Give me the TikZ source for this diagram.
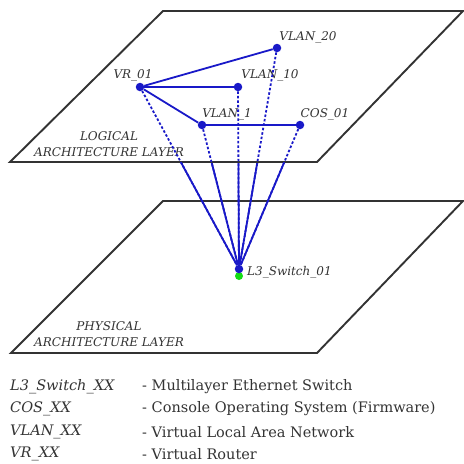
\documentclass[tikz,border=0pt]{standalone}
\usepackage{fontspec}
\setmainfont{DejaVu Serif}
\pgfdeclarelayer{back}
\pgfdeclarelayer{plane}
\pgfsetlayers{back,plane,main}
\definecolor{lnblue}{RGB}{25,25,200}
\definecolor{swgreen}{RGB}{20,220,20}
\tikzset{
  x=1pt, y=-1pt,
  planebox/.style={draw=black!80, line width=1.9pt, line join=miter},
  dot/.style={circle, fill=lnblue, inner sep=0pt, minimum size=8.5pt},
  gdot/.style={circle, fill=swgreen, inner sep=0pt, minimum size=8pt},
  link/.style={draw=lnblue, line width=1.8pt},
  hidden/.style={draw=lnblue, line width=1.8pt, dash pattern=on 2.5pt off 2pt},
  lbl/.style={font=\fontsize{12}{13}\selectfont\itshape, text=black!80, inner sep=0pt},
  layer/.style={font=\fontsize{12}{16}\selectfont\itshape, text=black!80, align=center, inner sep=0pt},
  leg/.style={font=\fontsize{14.5}{16}\selectfont, text=black!80, anchor=west, inner sep=0pt},
  legi/.style={font=\fontsize{14.5}{16}\selectfont\itshape, text=black!80, anchor=west, inner sep=0pt}
}
\begin{document}
\begin{tikzpicture}
\useasboundingbox (0,0) rectangle (464,464);
% nodes
\node[gdot] (swg) at (239,276) {};
\node[dot] (sw) at (239,269) {};
\node[dot] (vr) at (140,87) {};
\node[dot] (v10) at (238,87) {};
\node[dot] (v20) at (277,48) {};
\node[dot] (v1) at (202,125) {};
\node[dot] (cos) at (300,125) {};
% labels
\node[lbl] (lvr) at (133,75) {VR\_01};
\node[lbl] (lv20) at (308,37) {VLAN\_20};
\node[lbl] (lv10) at (270,75) {VLAN\_10};
\node[lbl] (lv1) at (227,114) {VLAN\_1};
\node[lbl] (lcos) at (325,114) {COS\_01};
\node[lbl, anchor=west] (lsw) at (247,272) {L3\_Switch\_01};
% planes
\begin{pgfonlayer}{back}
  \draw[planebox, fill=white] (163,201) -- (463,201) -- (317,353) -- (11,353) -- cycle;
  \foreach \n in {vr,v1,v10,v20,cos}{\draw[link] (\n) -- (sw);}
\end{pgfonlayer}
\begin{pgfonlayer}{plane}
  \draw[planebox, fill=white] (163,11) -- (463,11) -- (317,162) -- (10,162) -- cycle;
\end{pgfonlayer}
\node[layer] (logical) at (109,144) {LOGICAL\\ARCHITECTURE LAYER};
\node[layer] (physical) at (109,334) {PHYSICAL\\ARCHITECTURE LAYER};
% hidden lines
\foreach \n in {vr,v1,v10,v20,cos}{\draw[hidden] (\n) -- (sw);}
% logical links
\draw[link] (vr) -- (v20);
\draw[link] (vr) -- (v10);
\draw[link] (vr) -- (v1);
\draw[link] (v1) -- (cos);
% legend
\node[legi] (k1) at (10,387) {L3\_Switch\_XX};
\node[legi] (k2) at (10,409) {COS\_XX};
\node[legi] (k3) at (10,432) {VLAN\_XX};
\node[legi] (k4) at (10,454) {VR\_XX};
\node[leg] (d1) at (142,387) {- Multilayer Ethernet Switch};
\node[leg] (d2) at (142,409) {- Console Operating System (Firmware)};
\node[leg] (d3) at (142,432) {- Virtual Local Area Network};
\node[leg] (d4) at (142,454) {- Virtual Router};
\end{tikzpicture}
\end{document}
